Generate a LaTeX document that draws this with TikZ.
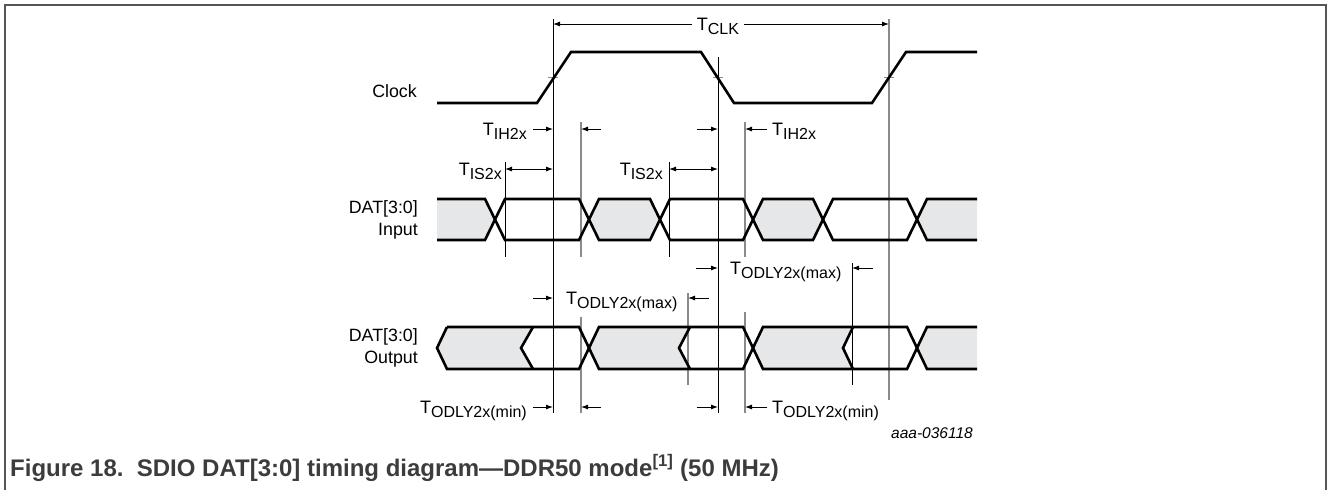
\documentclass[tikz,border=0pt]{standalone}
\usepackage{fontspec}
\setmainfont{Liberation Sans}
\usetikzlibrary{arrows.meta}

\definecolor{busgray}{HTML}{E6E7E8}
\definecolor{guidegray}{HTML}{8A8A8A}
\definecolor{framegray}{HTML}{555555}
\definecolor{capgray}{HTML}{3C3C3C}

\newcommand{\subsz}{\fontsize{16}{17}\selectfont}
\newcommand{\tname}[1]{T\raisebox{-4pt}{\subsz #1}}

\tikzstyle{sigLabel}=[inner sep=0pt,font=\fontsize{17.8}{22}\selectfont,align=right]
\tikzstyle{timeLabel}=[inner sep=0pt,font=\fontsize{18}{21}\selectfont]
\tikzstyle{dimArrow}=[draw,line width=0.9pt,-{Latex[length=7pt,width=5pt]}]
\tikzstyle{dimBoth}=[draw,line width=0.9pt,{Latex[length=7pt,width=5pt]}-{Latex[length=7pt,width=5pt]}]
\tikzstyle{sigLine}=[draw,line width=2.6pt]
\tikzstyle{busFill}=[fill=busgray]
\tikzstyle{edgeLine}=[draw,line width=0.8pt]
\tikzstyle{guideLine}=[draw,guidegray,line width=1.2pt]

\begin{document}
\begin{tikzpicture}[x=1pt,y=-1pt]

  \useasboundingbox (0,0) rectangle (1328,490);
  \draw[framegray,line width=1.2pt] (5,490) -- (5,5) -- (1326,5) -- (1326,490);

  % signal names
  \node[sigLabel,anchor=base east] (clk) at (417,97) {Clock};
  \node[sigLabel,anchor=east] (din) at (418,220) {DAT[3:0]\\Input};
  \node[sigLabel,anchor=east] (dout) at (418,348) {DAT[3:0]\\Output};

  % bus fills
  \path[busFill] (437,199) -- (485,199) -- (495,219.5) -- (485,240) -- (437,240) -- cycle;
  \path[busFill] (599,199) -- (650,199) -- (660,219.5) -- (650,240) -- (599,240) -- (589,219.5) -- cycle;
  \path[busFill] (763,199) -- (813,199) -- (823,219.5) -- (813,240) -- (763,240) -- (753,219.5) -- cycle;
  \path[busFill] (927,199) -- (977,199) -- (977,240) -- (927,240) -- (917,219.5) -- cycle;

  \path[busFill] (447,327) -- (533,327) -- (521,348) -- (533,369) -- (447,369) -- (437,348) -- cycle;
  \path[busFill] (599,327) -- (690,327) -- (679,348) -- (690,369) -- (599,369) -- (589,348) -- cycle;
  \path[busFill] (763,327) -- (853,327) -- (843,348) -- (853,369) -- (763,369) -- (753,348) -- cycle;
  \path[busFill] (927,327) -- (977,327) -- (977,369) -- (927,369) -- (917,348) -- cycle;

  % edge and guide lines
  \path[edgeLine] (553,19) -- (553,413);
  \path[edgeLine] (718,57) -- (718,413);
  \path[edgeLine] (505,162) -- (505,257);
  \path[edgeLine] (669,162) -- (669,257);
  \path[edgeLine] (852,263) -- (852,385);
  \path[guideLine] (889,19) -- (889,400);
  \path[guideLine] (581,122) -- (581,257);
  \path[guideLine] (581,317) -- (581,413);
  \path[guideLine] (745,122) -- (745,257);
  \path[guideLine] (745,312) -- (745,413);
  \path[guideLine] (688,293) -- (688,385);
  \draw[guidegray,line width=0.8pt] (548,77.5) -- (558,77.5);
  \draw[guidegray,line width=0.8pt] (713,77.5) -- (723,77.5);
  \draw[guidegray,line width=0.8pt] (884,77.5) -- (894,77.5);

  % waveforms
  \path[sigLine] (437,103) -- (537,103) -- (571,52) -- (701,52) -- (734,103) -- (872,103) -- (906,52) -- (977,52);

  \path[sigLine] (437,199) -- (485,199) -- (505,240) -- (579,240) -- (599,199) -- (650,199) -- (670,240) -- (743,240) -- (763,199) -- (813,199) -- (833,240) -- (907,240) -- (927,199) -- (977,199);
  \path[sigLine] (437,240) -- (485,240) -- (505,199) -- (579,199) -- (599,240) -- (650,240) -- (670,199) -- (743,199) -- (763,240) -- (813,240) -- (833,199) -- (907,199) -- (927,240) -- (977,240);

  \path[sigLine] (447,327) -- (579,327) -- (599,369) -- (743,369) -- (763,327) -- (907,327) -- (927,369) -- (977,369);
  \path[sigLine] (977,327) -- (927,327) -- (907,369) -- (763,369) -- (743,327) -- (599,327) -- (579,369) -- (447,369) -- (437,348) -- (447,327);
  \path[sigLine] (533,327) -- (521,348) -- (533,369);
  \path[sigLine] (690,327) -- (679,348) -- (690,369);
  \path[sigLine] (853,327) -- (843,348) -- (853,369);

  % timing
  \path[dimBoth] (553,24) -- (889,24);
  \node[timeLabel,fill=white,inner xsep=5pt,inner ysep=2pt,anchor=base] (tclk) at (718,30) {\tname{CLK}};

  \path[dimArrow] (533,129) -- (553,129);
  \path[dimArrow] (601,129) -- (581,129);
  \path[dimArrow] (697,129) -- (718,129);
  \path[dimArrow] (767,129) -- (745,129);
  \node[timeLabel,anchor=base east] (ih1) at (527,135) {\tname{IH2x}};
  \node[timeLabel,anchor=base west] (ih2) at (772,135) {\tname{IH2x}};

  \path[dimBoth] (505,169) -- (553,169);
  \path[dimBoth] (669,169) -- (718,169);
  \node[timeLabel,anchor=base east] (is1) at (502,175) {\tname{IS2x}};
  \node[timeLabel,anchor=base east] (is2) at (663,175) {\tname{IS2x}};

  \path[dimArrow] (696,268) -- (718,268);
  \path[dimArrow] (873,268) -- (852,268);
  \node[timeLabel,anchor=base west] (odmax2) at (730,274) {\tname{ODLY2x(max)}};

  \path[dimArrow] (533,298) -- (553,298);
  \path[dimArrow] (709,298) -- (688,298);
  \node[timeLabel,anchor=base west] (odmax1) at (566,304) {\tname{ODLY2x(max)}};

  \path[dimArrow] (533,407) -- (553,407);
  \path[dimArrow] (601,407) -- (581,407);
  \path[dimArrow] (697,407) -- (718,407);
  \path[dimArrow] (767,407) -- (745,407);
  \node[timeLabel,anchor=base east] (odmin1) at (527,413) {\tname{ODLY2x(min)}};
  \node[timeLabel,anchor=base west] (odmin2) at (772,413) {\tname{ODLY2x(min)}};

  \node[inner sep=0pt,anchor=base east,font=\fontsize{15.5}{18}\selectfont\itshape] (fig) at (973,438) {aaa-036118};

  \node[inner sep=0pt,anchor=base west,text=capgray,font=\fontsize{24}{28}\selectfont\bfseries] (cap) at (10,476) {Figure 18.\ \ SDIO DAT[3:0] timing diagram---DDR50 mode\textsuperscript{[1]} (50 MHz)};

\end{tikzpicture}
\end{document}
